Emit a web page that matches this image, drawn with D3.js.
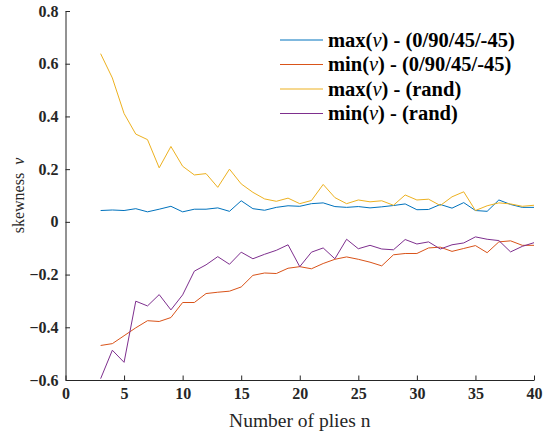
<!DOCTYPE html>
<html>
<head>
<meta charset="utf-8">
<script src="https://cdn.jsdelivr.net/npm/d3@7"></script>
<style>
  body { margin: 0; background: #fff; }
  svg { display: block; }
  svg text { font-family: "Liberation Serif", "Times New Roman", serif; }
</style>
</head>
<body>
<svg id="chart" width="543" height="434"></svg>
<script>
// number of plies
let plies = d3.range(3, 41);

let maxStd = [0.043, 0.045, 0.043, 0.050, 0.038, 0.048, 0.059, 0.038, 0.048, 0.048,
  0.053, 0.040, 0.080, 0.050, 0.044, 0.055, 0.061, 0.059, 0.069, 0.072,
  0.058, 0.055, 0.058, 0.053, 0.057, 0.062, 0.068, 0.046, 0.047, 0.066,
  0.052, 0.073, 0.043, 0.040, 0.083, 0.066, 0.055, 0.055];
let minStd = [-0.469, -0.462, -0.432, -0.402, -0.375, -0.378, -0.363, -0.306, -0.306, -0.272,
  -0.267, -0.263, -0.247, -0.203, -0.194, -0.196, -0.176, -0.170, -0.178, -0.158,
  -0.142, -0.133, -0.142, -0.153, -0.167, -0.125, -0.120, -0.120, -0.099, -0.096,
  -0.112, -0.101, -0.090, -0.117, -0.076, -0.072, -0.089, -0.089];
let maxRand = [0.638, 0.546, 0.411, 0.333, 0.312, 0.205, 0.286, 0.211, 0.178, 0.183,
  0.131, 0.200, 0.144, 0.112, 0.087, 0.078, 0.090, 0.069, 0.081, 0.142,
  0.092, 0.069, 0.083, 0.076, 0.080, 0.063, 0.102, 0.083, 0.086, 0.062,
  0.095, 0.114, 0.043, 0.061, 0.072, 0.068, 0.059, 0.063];
let minRand = [-0.595, -0.487, -0.533, -0.301, -0.319, -0.276, -0.334, -0.277, -0.187, -0.163,
  -0.132, -0.161, -0.115, -0.140, -0.123, -0.108, -0.087, -0.170, -0.115, -0.099,
  -0.140, -0.066, -0.102, -0.089, -0.103, -0.106, -0.067, -0.084, -0.076, -0.103,
  -0.087, -0.080, -0.057, -0.066, -0.071, -0.114, -0.093, -0.079];

// legend labels: [before nu, after nu]
let seriesNames = [["max(", ") - (0/90/45/-45)"], ["min(", ") - (0/90/45/-45)"],
  ["max(", ") - (rand)"], ["min(", ") - (rand)"]];
let seriesColors = ["#0072BD", "#D95319", "#EDB120", "#7E2F8E"];
let xTicks = d3.range(0, 41, 5);
let yTicks = [-0.6, -0.4, -0.2, 0, 0.2, 0.4, 0.6, 0.8];

let allSeries = [maxStd, minStd, maxRand, minRand];

let svg = d3.select("#chart");
let plot = { left: 65.5, right: 534, top: 11, bottom: 380 };

let xScale = d3.scaleLinear().domain([0, 40]).range([plot.left, plot.right]);
let yScale = d3.scaleLinear().domain([-0.6, 0.8]).range([plot.bottom, plot.top]);

// axes (matlab style, ticks inside, box off)
let xAxis = svg.append("g")
  .attr("transform", "translate(0," + plot.bottom + ")")
  .call(d3.axisBottom(xScale).tickValues(xTicks).tickSizeInner(-4.5).tickSizeOuter(0).tickPadding(8)
    .tickFormat(d3.format("d")));
let yAxis = svg.append("g")
  .attr("transform", "translate(" + plot.left + ",0)")
  .call(d3.axisLeft(yScale).tickValues(yTicks).tickSizeInner(-4.5).tickSizeOuter(0).tickPadding(7)
    .tickFormat(d => d == 0 ? "0" : d3.format(".1f")(d)));

[xAxis, yAxis].forEach(function(ax) {
  ax.attr("font-family", null).attr("font-size", null);
  ax.select(".domain").attr("stroke", "#262626").attr("stroke-width", 1);
  ax.selectAll(".tick line").attr("stroke", "#262626");
  ax.selectAll(".tick text")
    .attr("fill", "#262626")
    .style("font-size", "16px")
    .style("font-weight", "bold");
});

// lines
let line = d3.line()
  .x((d, i) => xScale(plies[i]))
  .y(d => yScale(d));

svg.selectAll(".series")
  .data(allSeries)
  .enter()
  .append("path")
    .attr("class", "series")
    .attr("d", d => line(d))
    .attr("fill", "none")
    .attr("stroke", (d, i) => seriesColors[i])
    .attr("stroke-width", 1);

// axis labels
svg.append("text")
  .attr("x", (plot.left + plot.right) / 2)
  .attr("y", 427)
  .attr("text-anchor", "middle")
  .style("font-size", "19.5px")
  .attr("fill", "#262626")
  .text("Number of plies n");

svg.append("text")
  .attr("transform", "translate(24," + ((plot.top + plot.bottom) / 2) + ") rotate(-90)")
  .attr("text-anchor", "middle")
  .style("font-size", "16px")
  .attr("fill", "#262626")
  .html("skewness&#160; <tspan font-style='italic'>&#957;</tspan>");

// legend
let legend = svg.append("g");
let legendY = [40, 64.5, 89, 113.5];
legend.selectAll(".legLine")
  .data(seriesNames)
  .enter()
  .append("line")
    .attr("x1", 280)
    .attr("x2", 323)
    .attr("y1", (d, i) => legendY[i])
    .attr("y2", (d, i) => legendY[i])
    .attr("stroke", (d, i) => seriesColors[i])
    .attr("stroke-width", 1);
let legText = legend.selectAll(".legText")
  .data(seriesNames)
  .enter()
  .append("text")
    .attr("x", 328)
    .attr("y", (d, i) => legendY[i] + 6.5)
    .style("font-size", "20.5px")
    .style("font-weight", "bold")
    .attr("fill", "#000");
legText.append("tspan").text(d => d[0]);
legText.append("tspan").style("font-style", "italic").style("font-weight", "normal").text("\u03bd");
legText.append("tspan").text(d => d[1]);
</script>
</body>
</html>
